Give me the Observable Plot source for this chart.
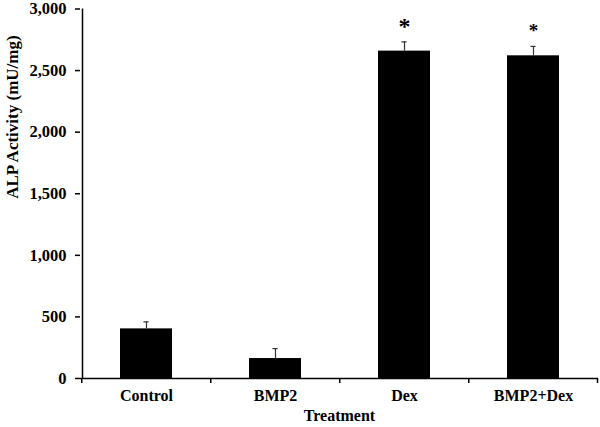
<!DOCTYPE html>
<html>
<head>
<meta charset="utf-8">
<script src="https://cdn.jsdelivr.net/npm/d3@7"></script>
<script src="https://cdn.jsdelivr.net/npm/@observablehq/plot@0.6"></script>
<style>
  html, body { margin: 0; padding: 0; background: #fff; }
  #chart svg { display: block; }
</style>
</head>
<body>
<div id="chart"></div>
<script>
const categories = ["Control", "BMP2", "Dex", "BMP2+Dex"];
const values = [403, 162, 2658, 2620];
const errors = [57, 81, 75, 76];
const marks = ["", "", "*", "*"];
const yTicks = [0, 500, 1000, 1500, 2000, 2500, 3000];

const data = categories.map((c, i) => ({cat: c, v: values[i], e: errors[i], top: values[i] + errors[i], m: marks[i], big: i === 2}));

const W = 600, H = 427, ML = 80, MR = 2;
const step = (W - ML - MR) / categories.length;
const bw = step * 0.4;

const chart = Plot.plot({
  width: W,
  height: H,
  marginLeft: ML,
  marginRight: MR,
  marginTop: 8.5,
  marginBottom: 49,
  style: {fontFamily: "'Liberation Serif', 'Times New Roman', serif", fontWeight: "bold", fontSize: "16px", color: "#000", background: "#fff"},
  x: {domain: categories, paddingInner: 0.6, paddingOuter: 0.3, label: null, axis: null},
  y: {domain: [0, 3000], label: null, axis: null},
  marks: [
    Plot.axisY({ticks: yTicks, tickFormat: d3.format(","), tickSize: 5, tickPadding: 9, fontSize: 16.5, fontWeight: "bold", label: null, strokeWidth: 1.5}),
    Plot.ruleX(data.slice(0, 1), {x: "cat", dx: -step / 2 + 0.75, y1: 0, y2: 3000, stroke: "#000", strokeWidth: 1.5}),
    Plot.barY(data, {x: "cat", y: "v", fill: "#000"}),
    Plot.ruleX(data, {x: "cat", y1: "v", y2: "top", stroke: "#333", strokeWidth: 1.2}),
    Plot.tickY(data, {x: "cat", y: "top", stroke: "#333", strokeWidth: 1.2, insetLeft: bw / 2 - 2.5, insetRight: bw / 2 - 2.5}),
    Plot.ruleY([0], {stroke: "#000", strokeWidth: 1.5}),
    Plot.ruleX(data, {x: "cat", y1: 0, y2: 0, dx: -step / 2, stroke: "#000", strokeWidth: 1.5, insetBottom: -5}),
    Plot.ruleX(data.slice(-1), {x: "cat", y1: 0, y2: 0, dx: step / 2 - 0.75, stroke: "#000", strokeWidth: 1.5, insetBottom: -5}),
    Plot.text(data, {x: "cat", y: "top", text: "m", dy: -16, fontSize: d => d.big ? 24 : 19, fontWeight: d => d.big ? "bold" : "normal", lineAnchor: "middle"}),
    Plot.text(data, {x: "cat", frameAnchor: "bottom", text: "cat", dy: 22, fontSize: 16, fontWeight: "bold"}),
    Plot.text(["Treatment"], {frameAnchor: "bottom", text: d => d, dy: 42.5, fontSize: 16, fontWeight: "bold"}),
    Plot.text(["ALP Activity (mU/mg)"], {frameAnchor: "left", text: d => d, rotate: -90, dx: -68, dy: 5, fontSize: 17, fontWeight: "bold"})
  ]
});
document.getElementById("chart").appendChild(chart);
</script>
</body>
</html>
